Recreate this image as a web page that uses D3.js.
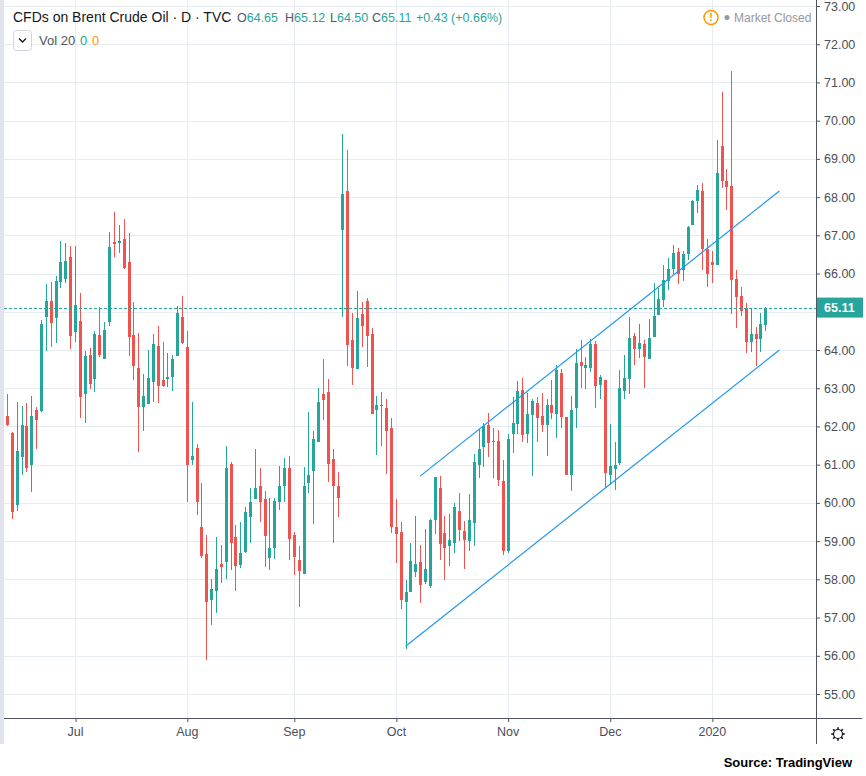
<!DOCTYPE html>
<html><head><meta charset="utf-8">
<script src="https://cdn.jsdelivr.net/npm/d3@7"></script>
<style>
html,body{margin:0;padding:0;background:#fff;}
svg{display:block;font-family:"Liberation Sans",Arial,sans-serif;}
</style></head><body>
<svg id="chart" width="866" height="776"></svg>
<script>
// ---------- data ----------
const startDate = "2019-06-11";
const endDate = "2020-01-17";
const holidays = ["2019-12-25", "2020-01-01"];
const monthLabels = ["Jul", "Aug", "Sep", "Oct", "Nov", "Dec", "2020"];
const priceTicks = [55,56,57,58,59,60,61,62,63,64,65,66,67,68,69,70,71,72,73];

const openV = [62.28,61.84,59.94,61.19,62.02,60.98,62.42,62.41,64.87,65.28,64.84,65.78,65.85,66.43,64.47,64.76,62.86,63.87,63.25,64.39,
63.77,64.74,66.82,66.80,66.91,66.30,64.39,63.53,62.50,62.58,63.17,64.10,63.22,63.24,63.30,63.85,64.86,64.08,61.13,61.43,
59.38,58.65,57.45,57.69,58.39,58.45,61.03,59.10,58.37,58.71,59.63,60.11,60.43,60.11,58.56,58.82,60.02,60.43,60.92,59.15,
58.50,58.13,60.51,60.83,61.59,62.84,62.89,61.16,60.43,67.13,68.15,64.25,63.50,64.95,65.29,64.41,62.42,62.55,62.47,61.96,
59.38,59.23,57.42,57.66,58.19,58.45,57.93,57.83,59.54,60.39,59.21,58.88,58.95,59.79,59.27,58.99,59.47,60.98,61.47,62.04,
61.63,61.61,60.58,58.73,61.79,62.06,62.95,61.79,62.29,62.61,62.27,62.03,62.55,62.32,63.39,62.25,60.73,62.47,63.68,63.52,
63.52,64.17,63.08,63.22,60.72,60.89,61.04,62.93,63.25,64.36,64.03,64.16,63.77,64.33,64.91,65.31,65.81,66.11,66.57,66.10,
66.50,67.26,67.89,68.16,66.65,66.29,66.22,69.33,68.41,68.28,65.87,65.40,65.10,64.21,64.43,64.29,64.65];
const highV = [62.85,61.86,62.63,62.54,62.61,62.80,62.50,64.78,65.72,65.78,65.93,66.84,66.80,66.71,66.71,65.49,63.98,64.06,64.50,65.13,
64.73,67.08,67.60,67.26,67.44,67.05,65.25,64.44,63.37,64.00,64.42,64.63,64.21,63.92,63.87,65.15,65.40,64.50,62.65,61.55,
60.53,59.17,58.00,59.10,58.89,61.50,61.08,59.41,59.50,59.90,60.39,61.42,60.90,60.30,60.14,60.12,60.97,61.18,61.23,59.25,
58.87,60.95,62.37,61.87,63.00,63.76,63.25,61.40,60.80,69.66,69.24,64.97,65.55,65.26,65.37,64.58,62.80,62.91,62.73,62.23,
60.09,59.49,57.97,58.95,59.66,58.90,59.32,59.58,60.68,60.71,59.66,59.71,59.99,60.26,59.53,60.24,61.28,61.93,62.08,62.34,
61.97,61.91,61.13,61.81,62.78,63.19,63.28,62.87,62.71,62.76,62.87,62.71,63.21,63.62,63.49,62.25,62.79,64.02,64.25,63.81,
64.30,64.24,63.34,63.22,62.07,61.58,63.48,63.88,64.86,64.45,64.69,64.25,64.82,65.76,65.61,66.23,66.41,66.75,66.68,66.60,
67.25,67.93,68.31,68.37,66.91,66.59,69.50,70.76,68.73,71.30,66.09,65.66,65.24,65.06,64.60,64.96,65.12];
const lowV = [62.02,59.57,59.78,60.74,60.80,60.28,61.41,62.37,63.98,64.09,64.19,65.63,65.74,64.03,64.22,62.23,62.10,62.97,62.91,63.81,
63.77,64.63,66.43,66.54,66.12,63.85,63.22,61.32,61.87,62.58,62.65,62.61,63.02,63.02,62.93,63.85,64.16,60.02,61.00,59.68,
58.55,55.90,56.80,57.11,57.90,58.02,58.24,57.69,58.29,58.70,58.94,60.09,59.50,58.32,58.24,58.54,59.81,60.02,58.50,58.11,
57.28,58.13,60.26,59.44,61.59,62.18,60.54,58.94,59.62,64.86,63.57,63.08,63.50,64.07,63.55,62.32,61.25,61.48,60.75,59.21,
58.42,57.22,56.17,57.66,58.06,57.39,57.88,57.78,59.19,58.51,57.99,58.36,58.70,59.01,58.27,58.75,58.86,60.64,60.94,61.21,
60.66,60.45,58.63,58.70,61.30,61.79,61.59,61.56,60.70,61.59,61.86,61.23,62.20,61.70,61.96,60.73,60.31,61.96,63.01,62.98,
63.43,62.49,62.71,60.38,60.48,60.33,61.00,62.73,62.86,63.61,63.79,63.01,63.77,64.33,64.91,65.13,65.58,65.99,65.73,65.81,
66.36,67.26,67.58,66.08,65.65,65.74,66.22,68.25,67.66,64.93,64.57,64.89,63.91,63.94,63.58,63.94,64.50];
const closeV = [62.04,59.76,61.37,62.04,60.90,62.28,62.17,64.68,65.28,64.71,65.81,66.30,66.32,64.37,65.17,62.78,63.83,63.12,64.42,63.87,
64.52,66.69,66.77,66.84,66.15,64.35,63.57,62.52,62.80,63.27,64.16,63.07,63.07,63.30,63.77,64.97,64.18,60.98,61.23,60.02,
58.60,57.41,57.74,58.26,58.32,60.90,58.94,58.35,58.68,59.75,60.03,60.40,60.02,59.13,58.83,60.06,60.43,60.92,59.05,58.58,
58.22,60.45,60.74,61.66,62.65,62.69,61.01,60.44,60.12,68.07,64.12,63.52,64.84,64.62,64.36,62.32,62.55,62.57,61.88,59.38,
59.18,57.47,57.66,58.48,58.41,57.86,58.27,59.56,60.68,58.93,58.81,59.03,59.88,59.28,59.04,59.56,61.07,61.41,62.00,61.56,
61.58,60.59,58.73,61.66,62.10,62.92,61.78,62.32,62.66,62.22,62.03,62.55,62.34,63.48,62.25,60.73,62.43,63.66,63.58,63.60,
64.15,63.06,63.29,60.77,60.96,61.00,63.00,63.27,64.32,64.03,64.19,63.81,64.32,64.90,65.34,65.84,66.13,66.54,65.99,66.51,
67.22,67.90,68.19,66.63,65.98,66.22,68.62,68.42,68.27,65.83,65.38,65.02,64.21,64.43,64.30,64.68,65.11];

const lastPrice = 65.11;
const lastChange = "+0.43 (+0.66%)";
// trend channel drawn on chart: [bar index, price]
const upperChannel = [[85.0, 60.70], [158.9, 68.16]];
const lowerChannel = [[82.0, 56.25], [158.9, 64.00]];

// ---------- trading dates ----------
const fmt = d3.utcFormat("%Y-%m-%d");
const dates = d3.utcDay.range(new Date(startDate), d3.utcDay.offset(new Date(endDate), 1))
  .filter(d => d.getUTCDay() !== 0 && d.getUTCDay() !== 6 && !holidays.includes(fmt(d)));
const bars = dates.map((d, i) => ({ i, date: d, o: openV[i], h: highV[i], l: lowV[i], c: closeV[i] }));
const monthStarts = [];
dates.forEach((d, i) => { if (i > 0 && d.getUTCMonth() !== dates[i - 1].getUTCMonth()) monthStarts.push(i); });

// ---------- layout ----------
const W = 866, H = 776;
const plotL = 4, plotR = 816, plotT = 0, plotB = 718;
const UP = "#26a69a", DOWN = "#ef5350", GRID = "#e6ecf1", AXIS = "#50535e", TXT = "#131722";
const f2 = d3.format(".2f");

const svg = d3.select("#chart");
const x = d3.scaleLinear().domain([0, bars.length - 1]).range([7, 7 + (bars.length - 1) * 4.861]);
const y = d3.scaleLinear().domain([55, 73]).range([694, 6]);

svg.append("rect").attr("x", 0).attr("y", 0).attr("width", W).attr("height", H).attr("fill", "#fff");
// left frame strip
svg.append("rect").attr("x", 0).attr("y", 0).attr("width", 4).attr("height", 744).attr("fill", "#e0e3eb");

svg.append("defs").append("clipPath").attr("id", "plotclip")
  .append("rect").attr("x", plotL).attr("y", plotT).attr("width", plotR - plotL).attr("height", plotB - plotT);

const plot = svg.append("g").attr("clip-path", "url(#plotclip)");

// grid
plot.append("g").selectAll("line").data(priceTicks).join("line")
  .attr("x1", plotL).attr("x2", plotR)
  .attr("y1", d => Math.round(y(d)) + 0.5).attr("y2", d => Math.round(y(d)) + 0.5)
  .attr("stroke", GRID).attr("stroke-width", 1);
plot.append("g").selectAll("line").data(monthStarts).join("line")
  .attr("x1", d => Math.round(x(d)) + 0.5).attr("x2", d => Math.round(x(d)) + 0.5)
  .attr("y1", plotT).attr("y2", plotB)
  .attr("stroke", GRID).attr("stroke-width", 1);

// candles
const cg = plot.append("g").attr("shape-rendering", "crispEdges");
cg.selectAll("rect.wick").data(bars).join("rect").attr("class", "wick")
  .attr("x", d => Math.round(x(d.i)))
  .attr("width", 1)
  .attr("y", d => y(d.h))
  .attr("height", d => Math.max(1, y(d.l) - y(d.h)))
  .attr("fill", d => d.c >= d.o ? UP : DOWN);
cg.selectAll("rect.body").data(bars).join("rect").attr("class", "body")
  .attr("x", d => Math.round(x(d.i)) - 1)
  .attr("width", 3)
  .attr("y", d => y(Math.max(d.o, d.c)))
  .attr("height", d => Math.max(1, Math.abs(y(d.o) - y(d.c))))
  .attr("fill", d => d.c >= d.o ? UP : DOWN);

// last price dashed line
plot.append("line")
  .attr("x1", plotL).attr("x2", plotR)
  .attr("y1", Math.round(y(lastPrice)) + 0.5).attr("y2", Math.round(y(lastPrice)) + 0.5)
  .attr("stroke", UP).attr("stroke-width", 1).attr("stroke-dasharray", "3,2");

// channel lines
const chLine = d3.line().x(d => x(d[0])).y(d => y(d[1]));
[upperChannel, lowerChannel].forEach(ch => {
  plot.append("path").attr("d", chLine(ch)).attr("fill", "none")
    .attr("stroke", "#2196f3").attr("stroke-width", 1.2);
});

// bottom axis
const xAxis = d3.axisBottom(x).tickValues(monthStarts)
  .tickFormat((d, i) => monthLabels[i]).tickSize(4).tickPadding(5);
const xg = svg.append("g").attr("transform", `translate(0,${plotB})`).call(xAxis);
xg.select(".domain").remove();
xg.selectAll(".tick line").attr("stroke", AXIS).attr("transform", "translate(0.5,0)");
xg.selectAll(".tick text").attr("fill", "#4a4e59").attr("font-size", 12.5)
  .attr("font-family", "'Liberation Sans',Arial,sans-serif");
svg.append("line").attr("x1", plotL).attr("x2", 862).attr("y1", plotB + 0.5).attr("y2", plotB + 0.5)
  .attr("stroke", AXIS).attr("stroke-width", 1);

// right axis (labels hidden behind the last-price tag are left out)
const ly = y(lastPrice);
const visibleTicks = priceTicks.filter(p => Math.abs(y(p) - ly) > 12);
const yAxis = d3.axisRight(y).tickValues(visibleTicks).tickFormat(f2)
  .tickSize(4).tickPadding(4);
const yg = svg.append("g").attr("transform", `translate(${plotR},0)`).call(yAxis);
yg.select(".domain").remove();
yg.selectAll(".tick line").attr("stroke", AXIS);
yg.selectAll(".tick text").attr("fill", "#4a4e59").attr("font-size", 12.5)
  .attr("font-family", "'Liberation Sans',Arial,sans-serif");
svg.append("line").attr("x1", plotR + 0.5).attr("x2", plotR + 0.5).attr("y1", 0).attr("y2", 744)
  .attr("stroke", AXIS).attr("stroke-width", 1);

// last price label
svg.append("rect").attr("x", plotR + 1).attr("y", ly - 10).attr("width", 46).attr("height", 20).attr("fill", UP);
svg.append("text").attr("x", plotR + 8).attr("y", ly).attr("dy", "0.35em")
  .attr("fill", "#fff").attr("font-size", 12.5).attr("font-weight", "bold").text(f2(lastPrice));

// gear icon
const gear = svg.append("g").attr("transform", "translate(838,734)").attr("stroke", TXT).attr("fill", "none");
gear.append("circle").attr("r", 4.5).attr("stroke-width", 1.2);
d3.range(8).forEach(k => {
  const a = k * Math.PI / 4;
  gear.append("line").attr("x1", Math.cos(a) * 4.5).attr("y1", Math.sin(a) * 4.5)
    .attr("x2", Math.cos(a) * 6.8).attr("y2", Math.sin(a) * 6.8).attr("stroke-width", 1.6);
});

// header
svg.append("text").attr("x", 13).attr("y", 22).attr("font-size", 14).attr("fill", TXT)
  .text("CFDs on Brent Crude Oil · D · TVC");
const last = bars[bars.length - 1];
const ohlc = [["O", last.o, 237], ["H", last.h, 285], ["L", last.l, 330], ["C", last.c, 372]];
const hg = svg.append("g").attr("font-size", 12.5);
ohlc.forEach(([k, v, px]) => {
  const t = hg.append("text").attr("x", px).attr("y", 22);
  t.append("tspan").attr("fill", AXIS).text(k);
  t.append("tspan").attr("fill", UP).text(f2(v));
});
hg.append("text").attr("x", 416).attr("y", 22).attr("fill", UP).text(lastChange);

// legend row 2
svg.append("rect").attr("x", 13.5).attr("y", 30.5).attr("width", 18).attr("height", 20).attr("rx", 3)
  .attr("fill", "#fff").attr("stroke", "#d1d4dc");
svg.append("path").attr("d", "M19,38.5 L22.5,42 L26,38.5").attr("fill", "none").attr("stroke", TXT).attr("stroke-width", 1.3);
svg.append("text").attr("x", 39).attr("y", 45).attr("font-size", 13).attr("fill", AXIS).text("Vol 20");
svg.append("text").attr("x", 80).attr("y", 45).attr("font-size", 13).attr("fill", UP).text("0");
svg.append("text").attr("x", 92).attr("y", 45).attr("font-size", 13).attr("fill", "#ff9800").text("0");

// market closed
svg.append("circle").attr("cx", 711).attr("cy", 17.5).attr("r", 7).attr("fill", "#fff")
  .attr("stroke", "#ff9800").attr("stroke-width", 1.5);
svg.append("text").attr("x", 711).attr("y", 17.5).attr("dy", "0.36em").attr("text-anchor", "middle")
  .attr("font-size", 11).attr("font-weight", "bold").attr("fill", "#ff9800").text("!");
svg.append("circle").attr("cx", 727).attr("cy", 17.5).attr("r", 2.5).attr("fill", "#9598a1");
svg.append("text").attr("x", 734).attr("y", 22).attr("font-size", 12).attr("fill", "#9598a1").text("Market Closed");

// source
svg.append("text").attr("x", 852).attr("y", 767).attr("text-anchor", "end")
  .attr("font-size", 13).attr("font-weight", "bold").attr("fill", "#000").text("Source: TradingView");
</script>
</body></html>
